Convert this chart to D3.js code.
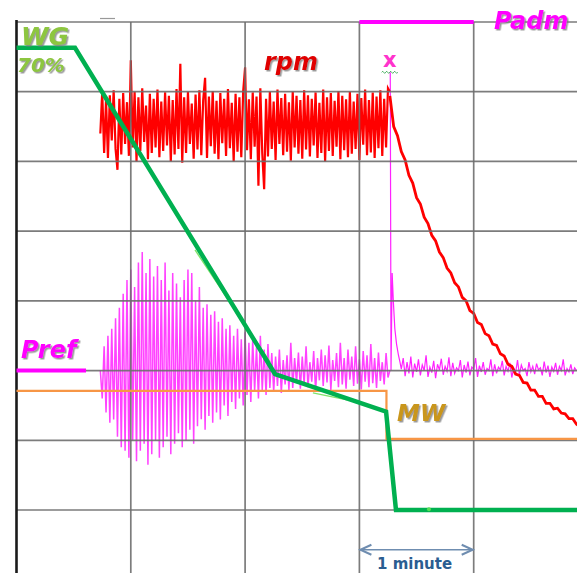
<!DOCTYPE html>
<html>
<head>
<meta charset="utf-8">
<script src="https://cdn.jsdelivr.net/npm/d3@7"></script>
<style>
	body { margin:0; background:#fff; overflow:hidden; }
	svg { display:block; }
	.lbl { font-family: "DejaVu Sans", Verdana, sans-serif; font-weight:700; font-style:italic; }
</style>
</head>
<body>
<div class="c_chart"></div>
<script>
/*DATA
------------------------------------------------------
time in seconds, level in scaled units (100 per grid division)
------------------------------------------------------
*/

const gridTimes = [60, 120, 180, 240];
const gridLevels = [100, 200, 300, 400, 500, 600, 700, 800];

// WG (wicket gate) setpoint
const wgTimes = [0, 30.7, 135.7, 194, 199.2, 300];
const wgLevels = [763, 763, 295, 241, 100, 100];
// WG measured (thin, mostly hidden under setpoint)
const wgMeasTimes = [93.7, 133.1];
const wgMeasLevels = [473, 312];
const wgMeas2Times = [155.6, 173.5];
const wgMeas2Levels = [268, 258];
const wgDotTime = 216.5, wgDotLevel = 101;

// MW
const mwTimes = [0, 194.2, 194.2, 300];
const mwLevels = [271, 271, 202, 202];

// rpm noise band, one sample per second from t=44
const rpmStart = 44, rpmStep = 1;
const rpmValues = [
	640, 700, 612, 688, 605, 695, 630, 702, 618, 588, 690, 610, 698, 625, 685,
	608, 745, 620, 700, 600, 692, 615, 705, 628, 680, 603, 697, 612, 690, 620,
	703, 606, 686, 615, 699, 623, 694, 600, 688, 610, 704, 618, 740, 598, 692,
	612, 700, 625, 683, 604, 696, 617, 702, 609, 688, 720, 605, 693, 622, 701,
	611, 687, 603, 698, 626, 690, 608, 704, 619, 684, 600, 697, 614, 692, 606,
	701, 735, 616, 689, 603, 699, 621, 693, 565, 705, 612, 560, 690, 607, 700,
	618, 686, 602, 703, 625, 691, 609, 697, 614, 685, 601, 700, 620, 694, 611,
	688, 604, 702, 617, 695, 607, 690, 623, 699, 605, 684, 612, 703, 600, 692,
	615, 698, 608, 687, 621, 701, 603, 694, 616, 689, 606, 700, 611, 686, 618,
	697, 602, 691, 624, 703, 609, 688, 613, 699, 605, 693, 619, 702, 608, 690,
	620, 705, 700
];

// rpm run-down after trip, every 2 s from t=196
const decayStart = 196, decayStep = 2;
const decayValues = [
	694, 650, 637, 614, 602, 580, 569, 548, 539, 520, 511, 494, 486, 470, 462,
	447, 440, 426, 420, 405, 400, 386, 382, 369, 366, 353, 350, 338, 336, 324,
	321, 309, 306, 295, 293, 283, 282, 272, 272, 263, 263, 253, 253, 245, 246,
	239, 238, 231, 231, 223, 219
];

// Pref oscillation, one sample per second from t=44
const prefStart = 44, prefStep = 1;
const prefValues = [
	300, 260, 335, 240, 350, 225, 360, 230, 375, 205, 390, 190, 410, 185, 430,
	175, 445, 200, 420, 170, 455, 185, 470, 195, 440, 165, 460, 180, 435, 200,
	450, 175, 430, 190, 455, 205, 415, 180, 440, 195, 425, 210, 405, 190, 430,
	200, 445, 215, 440, 195, 400, 220, 420, 230, 390, 215, 395, 235, 380, 225,
	385, 240, 370, 230, 375, 250, 360, 235, 365, 255, 350, 245, 360, 260, 345,
	250, 355, 265, 340, 255, 345, 270, 335, 260, 350, 272, 330, 265, 338, 275,
	325, 270, 320, 278, 330, 268, 315, 280, 322, 272, 340, 275, 318, 282, 326,
	274, 320, 280, 335, 276, 312, 284, 328, 270, 318, 286, 330, 278, 322, 283,
	336, 272, 315, 285, 325, 276, 340, 280, 318, 274, 330, 287, 320, 278, 335,
	281, 316, 273, 328, 284, 322, 276, 338, 282, 318, 275, 326, 285, 312, 280,
	325, 290, 300
];

// Pref spike at trip
const spikeTimes = [196.2, 196.6, 197.2, 197.8, 198.6, 199.5, 200.5, 201.3];
const spikeLevels = [728, 300, 440, 400, 360, 338, 322, 312];

// Pref after trip, one sample per second from t=202
const tailStart = 202, tailStep = 1;
const tailValues = [
	302, 318, 292, 312, 296, 320, 290, 310, 298, 316, 293, 308, 300, 322, 291, 305, 297, 314, 289, 309,
	301, 317, 294, 306, 299, 319, 292, 311, 296, 304, 300, 315, 290, 308, 297, 313, 293, 305, 302, 318,
	291, 307, 298, 312, 294, 303, 300, 316, 292, 309, 296, 305, 301, 314, 293, 306, 299, 311, 290, 304,
	297, 315, 294, 308, 300, 303, 292, 312, 298, 306, 295, 310, 301, 304, 293, 313, 297, 307, 291, 305,
	299, 311, 294, 306, 300, 316, 293, 303, 298, 309, 295, 304, 300
];

// reference marks
const padmTimes = [180, 240], padmLevel = 800;
const prefRefTimes = [0, 36.5], prefRefLevel = 300;
const minuteTimes = [180, 240], minuteLevel = 43;
const tripTime = 195.9, tripLevel = 735;


/*DIMENSION, SCALES
------------------------------------------------------
------------------------------------------------------
*/

const width = 577;
const height = 573;

const x = d3.scaleLinear().domain([0, 300]).range([16.5, 588]);
const y = d3.scaleLinear().domain([0, 800]).range([579.7, 22]);

const line = d3.line()
	.x(d => x(d[0]))
	.y(d => y(d[1]));

const sampled = (start, step, vals) => vals.map((v, i) => [start + i * step, v]);
const paired = (ts, vs) => ts.map((t, i) => [t, vs[i]]);

let svg = d3.select(".c_chart")
	.append("svg")
	.attr("width", width)
	.attr("height", height);

// soft grey shadow behind the italic labels
svg.append("defs")
	.append("filter")
	.attr("id", "shadow")
	.attr("x", "-10%").attr("y", "-20%")
	.attr("width", "130%").attr("height", "150%")
	.append("feDropShadow")
	.attr("dx", 1.5).attr("dy", 1.5)
	.attr("stdDeviation", 0.6)
	.attr("flood-color", "#7a7a7a")
	.attr("flood-opacity", 0.75);


/*NOISY SIGNALS
------------------------------------------------------
------------------------------------------------------
*/

svg.append("path")
	.attr("d", line(sampled(prefStart, prefStep, prefValues)))
	.attr("fill", "none")
	.attr("stroke", "#ff22ff")
	.attr("stroke-width", 1.5)
	.attr("opacity", 0.85);

svg.append("path")
	.attr("d", line(paired(spikeTimes, spikeLevels).concat(sampled(tailStart, tailStep, tailValues))))
	.attr("fill", "none")
	.attr("stroke", "#ff22ff")
	.attr("stroke-width", 1.2);

svg.append("path")
	.attr("d", line(sampled(rpmStart, rpmStep, rpmValues)))
	.attr("fill", "none")
	.attr("stroke", "#ff0000")
	.attr("stroke-width", 2.2);

svg.append("path")
	.attr("d", line(sampled(decayStart, decayStep, decayValues)))
	.attr("fill", "none")
	.attr("stroke", "#ff0000")
	.attr("stroke-width", 2.8);


/*GRID
------------------------------------------------------
------------------------------------------------------
*/

svg.selectAll(".hgrid")
	.data(gridLevels)
	.enter()
	.append("line")
	.attr("class", "hgrid")
	.attr("x1", x(0))
	.attr("x2", width)
	.attr("y1", d => y(d))
	.attr("y2", d => y(d))
	.attr("stroke", "#6e6e6e")
	.attr("stroke-width", 1.7)
	.attr("opacity", 0.9);

svg.selectAll(".vgrid")
	.data(gridTimes)
	.enter()
	.append("line")
	.attr("class", "vgrid")
	.attr("x1", d => x(d))
	.attr("x2", d => x(d))
	.attr("y1", y(800))
	.attr("y2", height)
	.attr("stroke", "#6e6e6e")
	.attr("stroke-width", 1.7)
	.attr("opacity", 0.9);

// left axis
svg.append("line")
	.attr("x1", x(0)).attr("x2", x(0))
	.attr("y1", y(800) - 2).attr("y2", height)
	.attr("stroke", "#1a1a1a")
	.attr("stroke-width", 2.6);

// small dash above the grid
svg.append("line")
	.attr("x1", 100).attr("x2", 115)
	.attr("y1", 18.5).attr("y2", 18.5)
	.attr("stroke", "#999")
	.attr("stroke-width", 1.2);


/*STEP LINES
------------------------------------------------------
------------------------------------------------------
*/

svg.append("path")
	.attr("d", line(paired(mwTimes, mwLevels)))
	.attr("fill", "none")
	.attr("stroke", "#f79646")
	.attr("stroke-width", 2.2);

svg.append("path")
	.attr("d", line(paired(wgMeasTimes, wgMeasLevels)))
	.attr("fill", "none")
	.attr("stroke", "#7fe36a")
	.attr("stroke-width", 1.4);
svg.append("path")
	.attr("d", line(paired(wgMeas2Times, wgMeas2Levels)))
	.attr("fill", "none")
	.attr("stroke", "#7fe36a")
	.attr("stroke-width", 1.4);

svg.append("path")
	.attr("d", line(paired(wgTimes, wgLevels)))
	.attr("fill", "none")
	.attr("stroke", "#00b050")
	.attr("stroke-width", 4.5)
	.attr("stroke-linejoin", "miter");

svg.append("circle")
	.attr("cx", x(wgDotTime)).attr("cy", y(wgDotLevel))
	.attr("r", 2)
	.attr("fill", "#55e055");

// Padm and Pref reference bars
svg.append("line")
	.attr("x1", x(padmTimes[0])).attr("x2", x(padmTimes[1]))
	.attr("y1", y(padmLevel)).attr("y2", y(padmLevel))
	.attr("stroke", "#ff00ff")
	.attr("stroke-width", 4);

svg.append("line")
	.attr("x1", x(prefRefTimes[0])).attr("x2", x(prefRefTimes[1]))
	.attr("y1", y(prefRefLevel)).attr("y2", y(prefRefLevel))
	.attr("stroke", "#ff00ff")
	.attr("stroke-width", 4);


/*1 MINUTE ARROW
------------------------------------------------------
------------------------------------------------------
*/

const ax1 = x(minuteTimes[0]) + 1, ax2 = x(minuteTimes[1]) - 1, ay = y(minuteLevel);
svg.append("line")
	.attr("x1", ax1).attr("x2", ax2)
	.attr("y1", ay).attr("y2", ay)
	.attr("stroke", "#6f8db0")
	.attr("stroke-width", 1.6);
svg.append("path")
	.attr("d", `M${ax1 + 11},${ay - 5}L${ax1},${ay}L${ax1 + 11},${ay + 5}M${ax2 - 11},${ay - 5}L${ax2},${ay}L${ax2 - 11},${ay + 5}`)
	.attr("fill", "none")
	.attr("stroke", "#6f8db0")
	.attr("stroke-width", 2);


/*LABELS
------------------------------------------------------
------------------------------------------------------
*/

function label(txt, lx, ly, size, color) {
	svg.append("text")
		.attr("class", "lbl")
		.attr("x", lx).attr("y", ly)
		.attr("font-size", size)
		.attr("fill", color)
		.attr("filter", "url(#shadow)")
		.text(txt);
}

label("WG", 21, 45, 25, "#8dc63f");
label("70%", 17, 72, 20, "#8dc63f");
label("rpm", 264, 70, 24, "#e00000");
label("Pref", 21, 358, 24, "#ff00ff");
label("Padm", 494, 29, 24, "#ff00ff");
label("MW", 397, 421, 23, "#c9961a");

// trip marker
svg.append("text")
	.attr("x", x(tripTime)).attr("y", y(tripLevel))
	.attr("text-anchor", "middle")
	.attr("font-family", "'DejaVu Sans', sans-serif")
	.attr("font-weight", 700)
	.attr("font-size", 21)
	.attr("fill", "#ff33cc")
	.text("x");
svg.append("path")
	.attr("d", (() => {
		let p = `M${x(tripTime) - 8},${y(tripLevel) + 5}`;
		for (let i = 0; i < 8; i++) p += `q1,${i % 2 ? 2 : -2} 2,0`;
		return p;
	})())
	.attr("fill", "none")
	.attr("stroke", "#22a040")
	.attr("stroke-width", 0.9);

svg.append("text")
	.attr("x", 377).attr("y", 569)
	.attr("font-family", "'DejaVu Sans', sans-serif")
	.attr("font-weight", 700)
	.attr("font-size", 15)
	.attr("fill", "#2a5d91")
	.text("1 minute");
</script>
</body>
</html>
